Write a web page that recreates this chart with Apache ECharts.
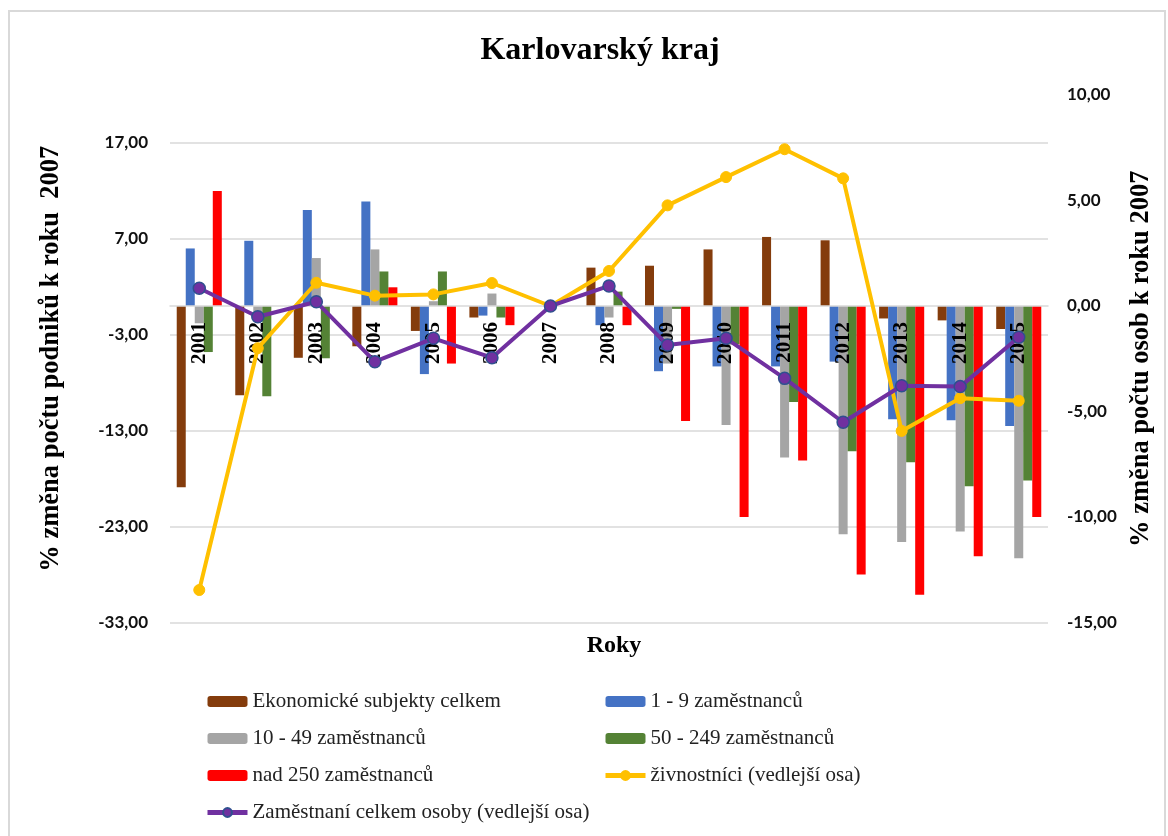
<!DOCTYPE html>
<html><head><meta charset="utf-8">
<script src="https://cdn.jsdelivr.net/npm/echarts@6/dist/echarts.min.js"></script>
<style>html,body{margin:0;padding:0;background:#fff}#c{width:1168px;height:836px}</style>
</head><body><div id="c"></div>
<script>
const years = ['2001','2002','2003','2004','2005','2006','2007','2008','2009','2010','2011','2012','2013','2014','2015'];
const ekonomickeSubjekty = [-18.9, -9.3, -5.4, -4.2, -2.6, -1.2, 0, 4.0, 4.2, 5.9, 7.2, 6.85, -1.3, -1.5, -2.4];
const zam1_9 = [6.0, 6.8, 10.0, 10.9, -7.1, -1.0, 0, -2.0, -6.8, -6.3, -6.3, -5.8, -11.8, -11.9, -12.5];
const zam10_49 = [-1.8, -1.0, 5.0, 5.9, 0.5, 1.3, 0, -1.2, -6.0, -12.4, -15.8, -23.8, -24.6, -23.5, -26.3];
const zam50_249 = [-4.8, -9.4, -5.45, 3.6, 3.6, -1.2, 0, 1.5, -0.3, -4.0, -10.0, -15.15, -16.3, -18.8, -18.2];
const zamNad250 = [12.0, 0, 0, 1.95, -6.0, -2.0, 0, -2.0, -12.0, -22.0, -16.1, -28.0, -30.1, -26.1, -22.0];
const zivnostnici = [-13.46, -2.0, 1.1, 0.49, 0.55, 1.09, 0, 1.66, 4.77, 6.11, 7.43, 6.05, -5.92, -4.37, -4.49];
const zamestnaniCelkem = [0.84, -0.51, 0.2, -2.64, -1.53, -2.45, 0, 0.95, -1.85, -1.53, -3.43, -5.51, -3.78, -3.82, -1.48];
const leftTicks = {min: -33, max: 22, interval: 10};
const rightTicks = {min: -15, max: 10, interval: 5};

const serif = 'Liberation Serif, Times New Roman, serif';
const fmt = v => v.toFixed(2).replace('.', ',');

// layout: main plot area and an overlay area whose bottom edge sits on the zero line of the left axis
const plot = {left: 170, right: 120, top: 95, bottom: 213.5};
const plotH = 836 - plot.top - plot.bottom;
const zeroY = plot.top + plotH * leftTicks.max / (leftTicks.max - leftTicks.min);

function bar(name, data, color) {
  return {name, type: 'bar', data, xAxisIndex: 0, yAxisIndex: 0, barGap: '0%', barCategoryGap: '23%',
    itemStyle: {color}, z: 2};
}
const chart = echarts.init(document.getElementById('c'), null, {renderer: 'canvas'});
const legendText = {fontFamily: serif, fontSize: 21, color: '#222', lineHeight: 21};
chart.setOption({
  animation: false,
  backgroundColor: '#fff',
  title: [
    {text: 'Karlovarský kraj', left: 595, top: 30, textAlign: 'center',
     textStyle: {fontFamily: serif, fontSize: 32, fontWeight: 'bold', color: '#000'}},
    {text: 'Roky', left: 609, top: 629, textAlign: 'center',
     textStyle: {fontFamily: serif, fontSize: 24, fontWeight: 'bold', color: '#000'}}
  ],
  graphic: [{type: 'rect', shape: {x: 9, y: 11, width: 1156, height: 830},
    style: {fill: 'none', stroke: '#d9d9d9', lineWidth: 2}, silent: true}],
  legend: [
    {left: 205, top: 691, orient: 'vertical', padding: 0, itemWidth: 40, itemHeight: 11, itemGap: 16,
     textStyle: legendText,
     data: ['Ekonomické subjekty celkem', '10 - 49 zaměstnanců', 'nad 250 zaměstnanců',
       {name: 'Zaměstnaní celkem osoby (vedlejší osa)', lineStyle: {width: 5}}]},
    {left: 603, top: 691, orient: 'vertical', padding: 0, itemWidth: 40, itemHeight: 11, itemGap: 16,
     textStyle: legendText,
     data: ['1 - 9 zaměstnanců', '50 - 249 zaměstnanců',
       {name: 'živnostníci (vedlejší osa)', lineStyle: {width: 5}}]}
  ],
  grid: [
    {left: plot.left, right: plot.right, top: plot.top, bottom: plot.bottom, containLabel: false},
    {left: plot.left, right: plot.right, top: plot.top, height: zeroY - plot.top, containLabel: false}
  ],
  xAxis: [
    {type: 'category', data: years, boundaryGap: true, gridIndex: 0,
     axisLine: {show: false}, axisTick: {show: false}, axisLabel: {show: false}},
    {type: 'category', data: years, boundaryGap: true, gridIndex: 1, position: 'bottom', z: 3,
     axisLine: {show: true, onZero: false, lineStyle: {color: '#d9d9d9', width: 1.5}},
     axisTick: {show: false},
     axisLabel: {rotate: 90, margin: 16, fontFamily: serif, fontSize: 21, fontWeight: 'bold', color: '#000', interval: 0}}
  ],
  yAxis: [
    {type: 'value', gridIndex: 0, min: leftTicks.min, max: leftTicks.max, interval: leftTicks.interval,
     name: '% změna počtu podniků k roku  2007', nameLocation: 'middle', nameRotate: 90, nameGap: 105,
     nameTextStyle: {fontFamily: serif, fontSize: 26.5, fontWeight: 'bold', color: '#000'},
     axisLine: {show: false}, axisTick: {show: false},
     axisLabel: {formatter: fmt, showMaxLabel: false, margin: 22, fontFamily: 'Lato', fontSize: 17, fontWeight: 'bold', color: '#111'},
     splitLine: {show: true, showMaxLine: false, lineStyle: {color: '#d9d9d9', width: 1.5}}},
    {type: 'value', gridIndex: 0, min: rightTicks.min, max: rightTicks.max, interval: rightTicks.interval,
     name: '% změna počtu osob k roku 2007', nameLocation: 'middle', nameRotate: 90, nameGap: 79,
     nameTextStyle: {fontFamily: serif, fontSize: 26.5, fontWeight: 'bold', color: '#000'},
     axisLine: {show: false}, axisTick: {show: false},
     axisLabel: {formatter: fmt, margin: 19, fontFamily: 'Lato', fontSize: 17, fontWeight: 'bold', color: '#111'},
     splitLine: {show: false}},
    {type: 'value', gridIndex: 1, min: 0, max: 1, show: false}
  ],
  series: [
    bar('Ekonomické subjekty celkem', ekonomickeSubjekty, '#843C0C'),
    bar('1 - 9 zaměstnanců', zam1_9, '#4472C4'),
    bar('10 - 49 zaměstnanců', zam10_49, '#A5A5A5'),
    bar('50 - 249 zaměstnanců', zam50_249, '#548235'),
    bar('nad 250 zaměstnanců', zamNad250, '#FF0000'),
    {name: 'živnostníci (vedlejší osa)', type: 'line', xAxisIndex: 0, yAxisIndex: 1, data: zivnostnici, z: 5,
     symbol: 'circle', symbolSize: 11, lineStyle: {color: '#FFC000', width: 4},
     itemStyle: {color: '#FFC000', borderColor: '#FFC000', borderWidth: 1}},
    {name: 'Zaměstnaní celkem osoby (vedlejší osa)', type: 'line', xAxisIndex: 0, yAxisIndex: 1, data: zamestnaniCelkem, z: 6,
     symbol: 'circle', symbolSize: 12, lineStyle: {color: '#7030A0', width: 4},
     itemStyle: {color: '#7030A0', borderColor: '#2F4F8F', borderWidth: 1.5}}
  ]
});
</script></body></html>
